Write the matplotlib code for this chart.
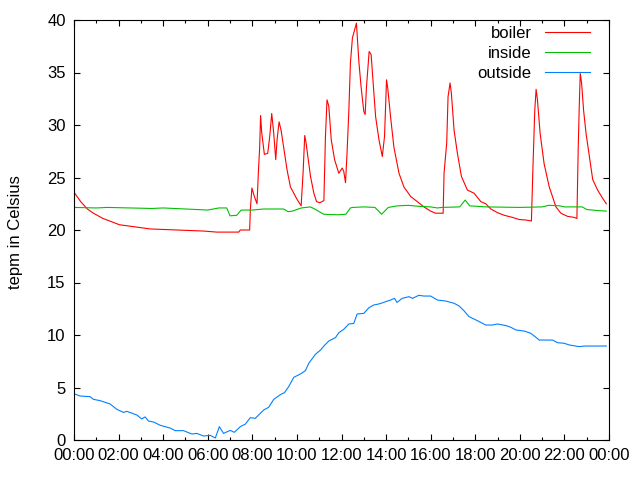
import matplotlib
matplotlib.use("Agg")
import matplotlib.pyplot as plt
from matplotlib.ticker import MultipleLocator, FuncFormatter

plt.rcParams['font.family'] = ['Liberation Sans', 'DejaVu Sans']

# hours since midnight, temperatures in Celsius
boiler_h = [0.0, 0.3, 0.6, 0.87, 1.3, 2.04, 3.42, 5.81, 6.41, 7.39, 7.46, 7.88, 7.91, 7.98, 8.09, 8.21,
            8.28, 8.33, 8.37, 8.42, 8.54, 8.69, 8.78, 8.87, 8.96, 9.05, 9.11, 9.20, 9.29,
            9.41, 9.56, 9.71, 9.86, 10.01, 10.19, 10.28, 10.35, 10.41, 10.49, 10.61, 10.76,
            10.88, 11.03, 11.21, 11.28, 11.35, 11.43, 11.54, 11.69, 11.88, 12.03, 12.10,
            12.18, 12.25, 12.33, 12.40, 12.49, 12.58, 12.67, 12.78, 12.88, 13.00, 13.06,
            13.12, 13.24, 13.33, 13.42, 13.53, 13.68, 13.83, 13.93, 14.02, 14.08, 14.20,
            14.35, 14.58, 14.80, 15.10, 15.40, 15.70, 16.00, 16.22, 16.56, 16.60, 16.72,
            16.78, 16.87, 16.93, 17.05, 17.20, 17.38, 17.65, 17.95, 18.25, 18.47, 18.70,
            19.00, 19.30, 19.67, 19.97, 20.27, 20.52, 20.58, 20.67, 20.73, 20.79, 20.91,
            21.09, 21.32, 21.62, 21.84, 22.14, 22.44, 22.56, 22.62, 22.67, 22.71, 22.77,
            22.86, 22.97, 23.12, 23.27, 23.49, 23.72, 23.88]
boiler_t = [23.6, 22.7, 22.0, 21.6, 21.1, 20.5, 20.1, 19.9, 19.8, 19.8, 20.0, 20.0, 21.9, 24.0, 23.2, 22.5,
            25.9, 27.9, 30.9, 29.3, 27.2, 27.3, 28.9, 31.1, 29.2, 26.7, 28.6, 30.3, 29.5,
            27.8, 25.7, 24.1, 23.5, 22.9, 22.3, 25.6, 29.0, 28.3, 27.0, 25.1, 23.5,
            22.7, 22.6, 22.8, 28.9, 32.4, 31.8, 28.6, 26.7, 25.4, 25.9, 25.6,
            24.5, 27.4, 31.4, 35.9, 38.3, 39.0, 39.7, 36.0, 33.6, 31.3, 31.0,
            33.6, 37.0, 36.7, 34.0, 30.8, 28.6, 27.0, 28.9, 34.3, 33.4, 30.8,
            27.9, 25.4, 24.1, 23.2, 22.7, 22.2, 21.8, 21.6, 21.6, 25.4, 28.3,
            32.7, 34.0, 33.0, 29.5, 27.3, 25.1, 23.8, 23.5, 22.7, 22.5, 22.0,
            21.65, 21.4, 21.2, 21.0, 20.95, 20.86, 25.4, 31.4, 33.4, 32.4, 29.2,
            26.3, 24.1, 22.2, 21.6, 21.3, 21.2, 21.1, 27.9, 32.1, 34.9, 34.0,
            31.4, 29.2, 27.0, 24.8, 23.8, 23.0, 22.5]

inside_h = [0.0, 1.0, 1.5, 2.5, 3.5, 4.0, 5.0, 6.0, 6.5, 6.85, 7.0, 7.3, 7.5, 8.0, 8.5,
            9.4, 9.6, 9.8, 10.2, 10.6, 10.8, 11.2, 11.8, 12.2, 12.4, 12.5, 13.0, 13.5,
            13.8, 14.1, 14.5, 15.0, 15.5, 16.0, 16.3, 16.5, 17.3, 17.55, 17.75, 18.5,
            20.0, 21.0, 21.3, 21.8, 22.0, 22.8, 23.0, 23.5, 23.88]
inside_t = [22.15, 22.1, 22.15, 22.1, 22.05, 22.1, 22.0, 21.9, 22.1, 22.1, 21.35, 21.4,
            21.9, 21.9, 22.0, 22.0, 21.75, 21.8, 22.1, 22.2, 22.0, 21.5, 21.45, 21.5,
            22.1, 22.15, 22.2, 22.15, 21.5, 22.15, 22.3, 22.35, 22.25, 22.2, 22.1, 22.15,
            22.2, 22.85, 22.3, 22.2, 22.15, 22.2, 22.35, 22.3, 22.2, 22.2, 21.95, 21.85, 21.8]

outside_h = [0.03, 0.27, 0.72, 0.87, 1.17, 1.62, 1.92, 2.22, 2.37, 2.82, 3.04, 3.19, 3.34,
             3.57, 3.87, 4.31, 4.54, 4.91, 5.29, 5.51, 5.81, 6.11, 6.34, 6.52, 6.71, 7.01,
             7.19, 7.46, 7.69, 7.91, 8.13, 8.51, 8.73, 8.96, 9.26, 9.44, 9.63, 9.86, 10.16,
             10.38, 10.53, 10.83, 11.06, 11.21, 11.43, 11.73, 11.88, 12.10, 12.33, 12.55,
             12.70, 13.00, 13.23, 13.45, 13.60, 13.75, 13.98, 14.20, 14.38, 14.49, 14.72,
             15.03, 15.18, 15.47, 15.70, 16.00, 16.30, 16.67, 17.05, 17.27, 17.49, 17.72,
             18.09, 18.47, 18.77, 18.99, 19.37, 19.60, 19.82, 20.19, 20.49, 20.72, 20.87,
             21.47, 21.69, 21.99, 22.22, 22.67, 22.89, 23.88]
outside_t = [4.38, 4.19, 4.13, 3.87, 3.75, 3.43, 2.92, 2.63, 2.73, 2.38, 2.0, 2.2, 1.81,
             1.71, 1.40, 1.14, 0.89, 0.89, 0.57, 0.63, 0.38, 0.44, 0.19, 1.27, 0.63, 0.92,
             0.73, 1.27, 1.52, 2.13, 2.06, 2.86, 3.11, 3.87, 4.32, 4.51, 5.08, 5.97, 6.29,
             6.60, 7.30, 8.16, 8.57, 8.95, 9.43, 9.75, 10.22, 10.54, 11.05, 11.1,
             12.0, 12.06, 12.6, 12.86, 12.92, 13.0, 13.17, 13.33, 13.49, 13.1, 13.49,
             13.65, 13.49, 13.78, 13.71, 13.71, 13.33, 13.24, 13.02, 12.77, 12.32, 11.75,
             11.37, 10.95, 10.95, 11.05, 10.9, 10.73, 10.48, 10.38, 10.16, 9.78, 9.52,
             9.52, 9.27, 9.21, 9.05, 8.89, 8.95, 8.95]

FS = 12

fig = plt.figure(figsize=(6.4, 4.8), dpi=100)
ax = fig.add_axes([74/640, 40/480, 535/640, 420/480])

ax.plot(boiler_h, boiler_t, color='#ff0000', lw=0.8, label='boiler')
ax.plot(inside_h, inside_t, color='#00c000', lw=0.8, label='inside')
ax.plot(outside_h, outside_t, color='#0080ff', lw=0.8, label='outside')

ax.set_xlim(0, 24)
ax.set_ylim(0, 40)
ax.xaxis.set_major_locator(MultipleLocator(2))
ax.xaxis.set_minor_locator(MultipleLocator(1))
ax.xaxis.set_major_formatter(FuncFormatter(lambda v, p: "%02d:00" % (int(round(v)) % 24)))
ax.yaxis.set_major_locator(MultipleLocator(5))
ax.tick_params(which='both', direction='in', top=True, right=True, labelsize=FS, width=0.8)
ax.tick_params(which='major', length=4, pad=6)
ax.tick_params(which='minor', length=2.5)
for s in ax.spines.values():
    s.set_linewidth(0.8)
ax.set_ylabel('tepm in Celsius', fontsize=FS)
ax.yaxis.set_label_coords(-0.096, 0.495)

leg = ax.legend(loc='upper right', frameon=False, fontsize=FS, markerfirst=False,
                handlelength=2.7, handletextpad=0.8, labelspacing=0.3,
                borderpad=0, borderaxespad=0, bbox_to_anchor=(0.9645, 0.985))
for t in leg.get_texts():
    t.set_ha('right')

fig.savefig('out.png', dpi=100)
